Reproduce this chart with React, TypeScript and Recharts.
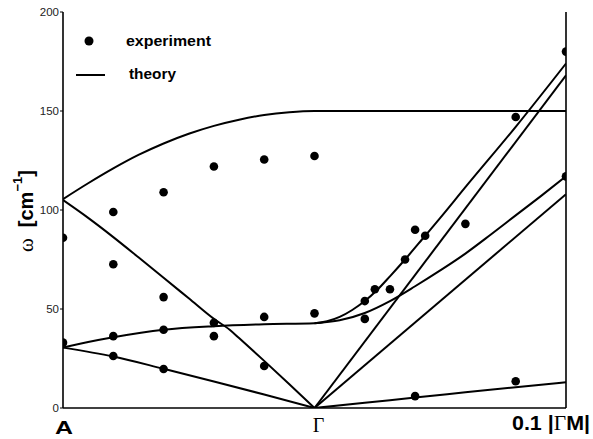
import React from 'react';
import { ComposedChart, Line, Scatter, XAxis, YAxis, Legend } from 'recharts';

const W = 593;
const H = 439;

// experiment points
const expX = [0, 0, 0.2, 0.2, 0.2, 0.2, 0.4, 0.4, 0.4, 0.4, 0.6, 0.6, 0.6, 0.8, 0.8, 0.8, 1.0, 1.0, 1.2, 1.2, 1.24, 1.3, 1.36, 1.4, 1.44, 1.4, 1.6, 1.8, 1.8, 2.0, 2.0];
const expY = [86, 33, 99, 72.6, 36.3, 26.3, 109, 56, 39.5, 19.7, 122, 43, 36.3, 125.5, 46, 21.2, 127.3, 47.8, 45, 54, 60, 60, 75, 90, 87, 6, 93, 147, 13.5, 180, 117];

// theory curves
const topX = [0, 0.1, 0.2, 0.3, 0.4, 0.5, 0.6, 0.7, 0.8, 0.9, 1.0, 1.2, 1.5, 2.0];
const topY = [105.5, 113.5, 121, 127.8, 133.6, 138.5, 142.5, 145.6, 148, 149.4, 150, 150, 150, 150];

const descX = [0, 0.1, 0.2, 0.3, 0.4, 0.5, 0.6, 0.664, 0.7, 0.8, 0.9, 1.0];
const descY = [105, 96, 86.3, 76.1, 65.8, 55.4, 45, 39.4, 35.3, 23.8, 12, 0];

const mixX = [0, 0.1, 0.2, 0.4, 0.6, 0.8, 1.0, 1.05, 1.1, 1.15, 1.2, 1.25, 1.3, 1.36, 1.44, 1.5, 1.6, 1.8, 2.0];
const mixY = [30.5, 33.3, 35.7, 39.5, 41.3, 42.3, 42.8, 43.8, 46, 49.5, 54, 59.7, 66.5, 75, 87, 96, 111.5, 142, 174];

const branchX = [1.0, 1.1, 1.2, 1.3, 1.4, 1.5, 1.6, 1.7, 1.8, 1.9, 2.0];
const branchY = [42.8, 44.3, 48, 54, 61.5, 69.5, 78, 87.5, 97.3, 107, 117];

const steepX = [1.0, 2.0];
const steepY = [0, 168];

const midX = [1.0, 2.0];
const midY = [0, 108];

const flatX = [1.0, 1.2, 1.4, 1.6, 1.8, 2.0];
const flatY = [0, 2.6, 5.3, 7.9, 10.5, 13];

const lowX = [0, 0.2, 0.4, 0.6, 0.8, 1.0];
const lowY = [30.5, 26, 19.8, 13.4, 6.8, 0];

const yTicks = [0, 50, 100, 150, 200];
const xTicks = [0, 1, 2];
const xTickLabels = ['A', 'Γ', '0.1 |ΓM|'];
const legendLabels = ['experiment', 'theory'];

const zip = (xs: number[], ys: number[]) => xs.map((x, i) => ({ x, y: ys[i] }));

const curves = [
  { id: 'top', data: zip(topX, topY), type: 'monotone' },
  { id: 'desc', data: zip(descX, descY), type: 'monotone' },
  { id: 'mix', data: zip(mixX, mixY), type: 'monotone' },
  { id: 'branch', data: zip(branchX, branchY), type: 'monotone' },
  { id: 'steep', data: zip(steepX, steepY), type: 'linear' },
  { id: 'mid', data: zip(midX, midY), type: 'linear' },
  { id: 'flat', data: zip(flatX, flatY), type: 'monotone' },
  { id: 'low', data: zip(lowX, lowY), type: 'monotone' },
];

const expData = zip(expX, expY);

const SANS = 'Liberation Sans, Arial, Helvetica, sans-serif';
const SERIF = 'Liberation Serif, Times New Roman, serif';

function XTick(props: any) {
  const { x, y, payload } = props;
  const idx = xTicks.indexOf(payload.value);
  const label = xTickLabels[idx];
  if (idx === 0) {
    return (
      <text x={x + 1} y={y + 26} textAnchor="middle" fontFamily={SANS} fontWeight="bold" fontSize={18}
        textLength={18} lengthAdjust="spacingAndGlyphs" fill="#000">
        {label}
      </text>
    );
  }
  if (idx === 1) {
    return (
      <text x={x + 4} y={y + 24} textAnchor="middle" fontFamily={SERIF} fontSize={20} fill="#000">
        {label}
      </text>
    );
  }
  const parts = label.split('Γ');
  return (
    <text x={x - 54} y={y + 22} textAnchor="start" fontFamily={SANS} fontWeight="bold" fontSize={20}
      textLength={78} lengthAdjust="spacingAndGlyphs" fill="#000">
      {parts[0]}
      <tspan fontFamily={SERIF} fontWeight="normal">Γ</tspan>
      {parts[1]}
    </text>
  );
}

function YLabel(props: any) {
  const vb = props.viewBox || { x: 0, y: 12, width: 63, height: 396 };
  const bx = vb.x + 33;
  const by = vb.y + vb.height / 2 + 42;
  return (
    <g transform={`translate(${bx}, ${by}) rotate(-90)`}>
      <text x={0} y={0} fontFamily={SANS} fontWeight="bold" fontSize={20} fill="#000">
        <tspan fontFamily={SERIF} fontWeight="normal" fontSize={21}>ω</tspan>
        <tspan dx={11}>[cm</tspan>
        <tspan dy={-11} fontSize={13}>−1</tspan>
        <tspan dy={11}>]</tspan>
      </text>
    </g>
  );
}

function LegendContent() {
  return (
    <div style={{ position: 'relative', width: 0, height: 0 }}>
      <svg width={W} height={H} style={{ position: 'absolute', left: 0, top: 0, overflow: 'visible', pointerEvents: 'none' }}>
        <circle cx={89} cy={41} r={4.5} fill="#000" />
        <text x={126} y={46} fontFamily={SANS} fontWeight="bold" fontSize={15} textLength={85} lengthAdjust="spacingAndGlyphs" fill="#000">{legendLabels[0]}</text>
        <line x1={76} y1={75} x2={105} y2={75} stroke="#000" strokeWidth={2} />
        <text x={129} y={79} fontFamily={SANS} fontWeight="bold" fontSize={15} textLength={47} lengthAdjust="spacingAndGlyphs" fill="#000">{legendLabels[1]}</text>
      </svg>
    </div>
  );
}

const Dot = (p: any) => <circle cx={p.cx} cy={p.cy} r={4.3} fill="#000" />;

export default function App() {
  return (
    <div style={{ position: 'absolute', left: 0, top: 0, width: W, height: H, background: '#fff' }}>
      <ComposedChart width={W} height={H} margin={{ top: 12, right: 27, bottom: 0, left: 0 }}>
        <XAxis
          xAxisId="b"
          dataKey="x"
          type="number"
          domain={[0, 2]}
          ticks={xTicks}
          allowDataOverflow
          height={31}
          tickSize={0}
          tickMargin={0}
          tickLine={false}
          axisLine={{ stroke: '#000', strokeWidth: 1.6 }}
          tick={<XTick />}
          interval={0}
        />
        <XAxis
          xAxisId="t"
          orientation="top"
          dataKey="x"
          type="number"
          domain={[0, 2]}
          height={0}
          tick={false}
          tickLine={false}
          axisLine={{ stroke: '#000', strokeWidth: 1.6 }}
        />
        <YAxis
          yAxisId="l"
          type="number"
          domain={[0, 200]}
          ticks={yTicks}
          allowDataOverflow
          width={63}
          tickSize={3}
          tickMargin={1}
          tickLine={{ stroke: '#000', strokeWidth: 1 }}
          axisLine={{ stroke: '#000', strokeWidth: 1.6 }}
          tick={{ fontFamily: SANS, fontSize: 11.5, fill: '#222' }}
          interval={0}
          label={{ content: <YLabel /> }}
        />
        <YAxis
          yAxisId="r"
          orientation="right"
          mirror
          type="number"
          domain={[0, 200]}
          ticks={yTicks}
          width={4}
          tickSize={4}
          tickLine={{ stroke: '#000', strokeWidth: 1 }}
          axisLine={{ stroke: '#000', strokeWidth: 1.6 }}
          tick={() => <g />}
          interval={0}
        />
        <Legend verticalAlign="top" content={<LegendContent />} wrapperStyle={{ left: 0, top: 0, width: 0, height: 0 }} />
        {curves.map((c) => (
          <Line
            key={c.id}
            xAxisId="b"
            yAxisId="l"
            data={c.data}
            dataKey="y"
            type={c.type as any}
            stroke="#000"
            strokeWidth={2}
            dot={false}
            activeDot={false}
            isAnimationActive={false}
            legendType="none"
          />
        ))}
        <Scatter
          xAxisId="b"
          yAxisId="l"
          data={expData}
          dataKey="y"
          fill="#000"
          shape={Dot}
          isAnimationActive={false}
          legendType="none"
        />
      </ComposedChart>
    </div>
  );
}
